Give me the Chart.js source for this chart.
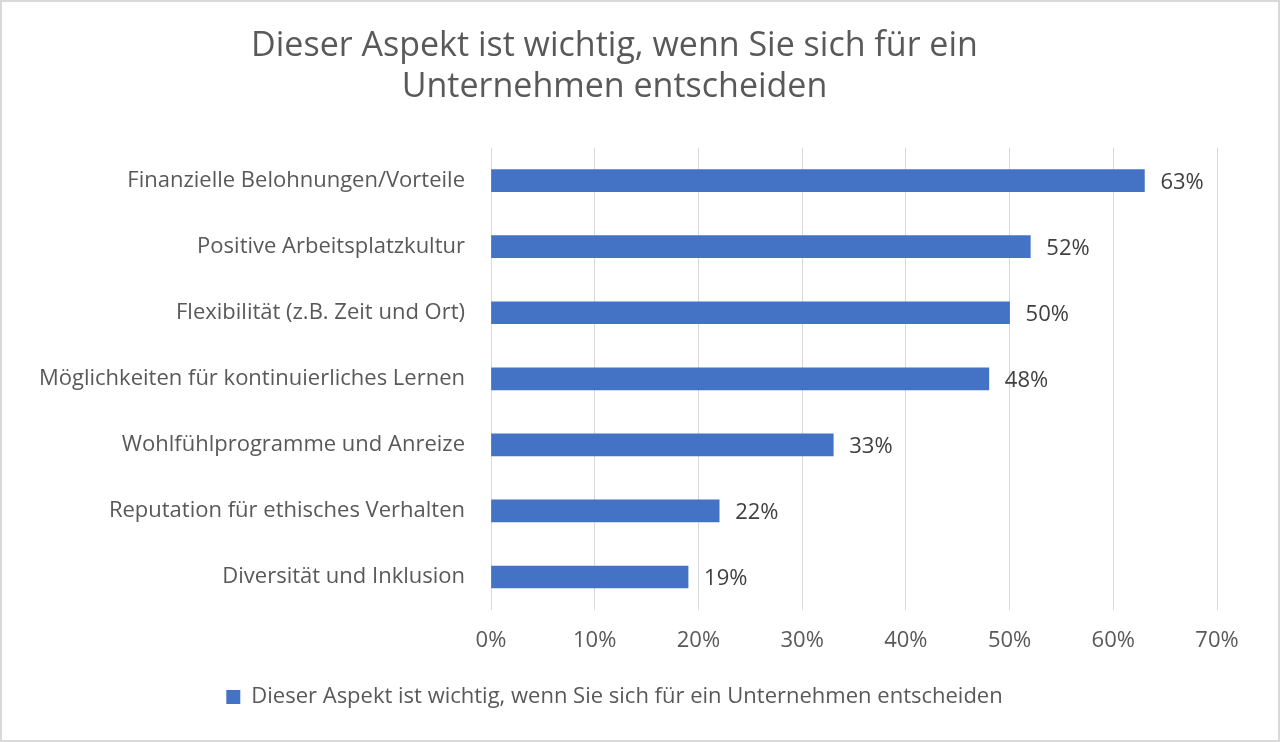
<!DOCTYPE html>
<html>
<head>
<meta charset="utf-8">
<script src="https://cdn.jsdelivr.net/npm/chart.js@4"></script>
<style>
  html, body { margin: 0; padding: 0; background: #fff; }
  #wrap { position: relative; width: 1276px; height: 738px; border: 2px solid #d9d9d9; }
</style>
</head>
<body>
<div id="wrap"><canvas id="c"></canvas></div>
<script>
var categories = [
    'Finanzielle Belohnungen/Vorteile',
    'Positive Arbeitsplatzkultur',
    'Flexibilität (z.B. Zeit und Ort)',
    'Möglichkeiten für kontinuierliches Lernen',
    'Wohlfühlprogramme und Anreize',
    'Reputation für ethisches Verhalten',
    'Diversität und Inklusion'
];
var values = [63, 52, 50, 48, 33, 22, 19];
var seriesName = 'Dieser Aspekt ist wichtig, wenn Sie sich für ein Unternehmen entscheiden';
var titleLines = ['Dieser Aspekt ist wichtig, wenn Sie sich für ein', 'Unternehmen entscheiden'];

var FONT = '"Open Sans", "Noto Sans", sans-serif';
var GREY = '#595959';

var labelPlugin = {
    id: 'barLabels',
    afterDatasetsDraw: function (chart) {
        var ctx = chart.ctx;
        var meta = chart.getDatasetMeta(0);
        ctx.save();
        ctx.fillStyle = '#404040';
        ctx.font = '22px ' + FONT;
        ctx.textBaseline = 'middle';
        meta.data.forEach(function (bar, i) {
            ctx.fillText(values[i] + '%', bar.x + 16, bar.y + 2);
        });
        ctx.restore();
    }
};

new Chart(document.getElementById('c'), {
    type: 'bar',
    data: {
        labels: categories,
        datasets: [{
            label: seriesName,
            data: values,
            backgroundColor: '#4472c4',
            barThickness: 22
        }]
    },
    options: {
        indexAxis: 'y',
        responsive: true,
        maintainAspectRatio: false,
        animation: false,
        layout: { padding: { left: 10, right: 61, top: 14, bottom: 22 } },
        plugins: {
            title: {
                display: true,
                text: titleLines,
                color: GREY,
                font: { family: FONT, size: 34, weight: 'normal' },
                lineHeight: 1.5,
                padding: { top: 10, bottom: 40 }
            },
            legend: {
                position: 'bottom',
                labels: {
                    color: GREY,
                    font: { family: FONT, size: 22 },
                    boxWidth: 14,
                    boxHeight: 14
                }
            },
            tooltip: { enabled: false }
        },
        scales: {
            x: {
                min: 0,
                max: 70,
                ticks: {
                    stepSize: 10,
                    color: GREY,
                    font: { family: FONT, size: 22 },
                    padding: 18,
                    callback: function (v) { return v + '%'; }
                },
                grid: { color: '#d9d9d9', drawTicks: false },
                border: { display: false },
                afterFit: function (scale) { scale.height = 66; }
            },
            y: {
                ticks: {
                    color: GREY,
                    font: { family: FONT, size: 22 },
                    padding: 18
                },
                grid: { display: false },
                border: { display: false },
                afterFit: function (scale) { scale.width = 479; }
            }
        }
    },
    plugins: [labelPlugin]
});
</script>
</body>
</html>
